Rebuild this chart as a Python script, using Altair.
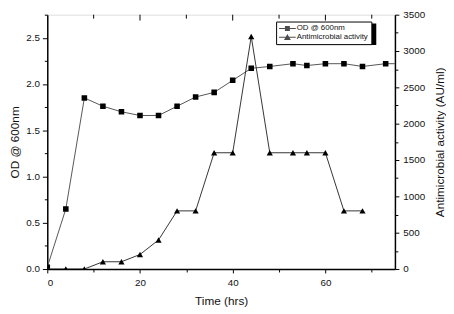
import altair as alt
import pandas as pd

# ---- data ----
od_time = [0, 4, 8, 12, 16, 20, 24, 28, 32, 36, 40, 44, 48, 53, 56, 60, 64, 68, 73, 76]
od_value = [0.02, 0.65, 1.85, 1.76, 1.70, 1.66, 1.66, 1.76, 1.86, 1.91, 2.04, 2.17,
            2.19, 2.22, 2.20, 2.22, 2.22, 2.19, 2.22, 2.22]
act_time = [0, 4, 8, 12, 16, 20, 24, 28, 32, 36, 40, 44, 48, 53, 56, 60, 64, 68]
act_value = [0, 0, 0, 100, 100, 200, 400, 800, 800, 1600, 1600, 3200, 1600, 1600,
             1600, 1600, 800, 800]
series = ["OD @ 600nm", "Antimicrobial activity"]

x_ticks = [0, 10, 20, 30, 40, 50, 60, 70]
x_major_top = [20, 40, 60]
x_minor_top = [10, 30, 50, 70]
od_ticks = [0, 0.25, 0.5, 0.75, 1.0, 1.25, 1.5, 1.75, 2.0, 2.25, 2.5, 2.75]
act_ticks = [0, 250, 500, 750, 1000, 1250, 1500, 1750, 2000, 2250, 2500, 2750, 3000, 3250, 3500]

od_df = pd.DataFrame({"time": od_time, "od": od_value})
act_df = pd.DataFrame({"time": act_time, "act": act_value})

FONT = "Liberation Sans"
INK = "#111"

common_axis = dict(
    grid=False, domainColor="black", domainWidth=1.5, tickColor="black", tickWidth=1,
    labelFont=FONT, titleFont=FONT, labelFontSize=10, titleFontSize=12,
    labelColor=INK, titleColor=INK, titleFontWeight="normal",
)

x_scale = alt.Scale(domain=[0, 75], nice=False, zero=False)
x_axis = alt.Axis(
    title="Time (hrs)", values=x_ticks,
    labelExpr="datum.value % 20 == 0 ? format(datum.value, 'd') : ''",
    tickSize={"condition": {"test": "datum.value % 20 == 0", "value": 4}, "value": 3},
    labelPadding=5, titlePadding=8, **common_axis,
)
x_enc = alt.X("time:Q", scale=x_scale, axis=x_axis)

left_axis = alt.Axis(
    title="OD @ 600nm", values=od_ticks, orient="left",
    labelExpr="datum.value % 0.5 == 0 ? format(datum.value, '.1f') : ''",
    tickSize={"condition": {"test": "datum.value % 0.5 == 0", "value": 5}, "value": 3},
    labelPadding=3, titlePadding=4, **common_axis,
)
right_axis = alt.Axis(
    title="Antimicrobial activity (AU/ml)", values=act_ticks, orient="right",
    labelExpr="datum.value % 500 == 0 ? format(datum.value, 'd') : ''",
    tickSize={"condition": {"test": "datum.value % 500 == 0", "value": 4}, "value": 3},
    labelPadding=4, titlePadding=22, titleAngle=270, **common_axis,
)

base_od = alt.Chart(od_df).encode(
    x=x_enc,
    y=alt.Y("od:Q", scale=alt.Scale(domain=[0, 2.75], nice=False), axis=left_axis),
)
od_layer = alt.layer(
    base_od.mark_line(color="#555", strokeWidth=1, clip=True),
    base_od.mark_point(shape="square", filled=True, color="black", size=32, opacity=1, clip=True),
)

base_act = alt.Chart(act_df).encode(
    x=x_enc,
    y=alt.Y("act:Q", scale=alt.Scale(domain=[0, 3500], nice=False), axis=right_axis),
)
act_layer = alt.layer(
    base_act.mark_line(color="#333", strokeWidth=1, clip=True),
    base_act.mark_point(shape="triangle-up", filled=True, color="black", size=40, opacity=1, clip=True),
)

top_major = alt.Chart(pd.DataFrame({"time": x_major_top})).mark_rule(
    color="black", strokeWidth=1).encode(x=x_enc, y=alt.value(0), y2=alt.value(6))
top_minor = alt.Chart(pd.DataFrame({"time": x_minor_top})).mark_rule(
    color="black", strokeWidth=1).encode(x=x_enc, y=alt.value(0), y2=alt.value(4))

# drop shadow behind the legend box
shadow = alt.Chart(pd.DataFrame({"a": [0]})).mark_rect(color="black").encode(
    x=alt.value(235), x2=alt.value(335), y=alt.value(9), y2=alt.value(31))

# legend symbols: a thin filled bar (the line) plus the marker, shifted right
path_od = "M-1,-0.12H3.25V0.12H-1Z M0.5,-0.625H1.75V0.625H0.5Z"
path_act = "M-1,-0.12H3.25V0.12H-1Z M0.25,0.7L1.125,-0.8L2,0.7Z"

legend_layer = alt.Chart(pd.DataFrame({"series": series})).mark_point(
    filled=True, color="black", size=0
).encode(
    shape=alt.Shape(
        "series:N",
        scale=alt.Scale(domain=series, range=[path_od, path_act]),
        legend=alt.Legend(
            title=None, orient="none", legendX=233, legendY=7,
            fillColor="white", strokeColor="black", padding=3,
            symbolSize=64, symbolFillColor="black", symbolStrokeWidth=0,
            labelFont=FONT, labelFontSize=8, labelColor=INK,
            labelOffset=10, rowPadding=1,
        ),
    )
)

chart = alt.layer(
    od_layer, act_layer, top_major, top_minor, shadow, legend_layer
).resolve_scale(y="independent").properties(
    width=354, height=259,
    autosize=alt.AutoSizeParams(type="none"),
    padding={"left": 40, "top": 4, "right": 52, "bottom": 43},
).configure_view(stroke="black", strokeWidth=1.5).configure_axis(
    titleFontWeight="normal"
).configure(background="white")

chart.save("out.html", embed_options={"renderer": "svg", "actions": False})
